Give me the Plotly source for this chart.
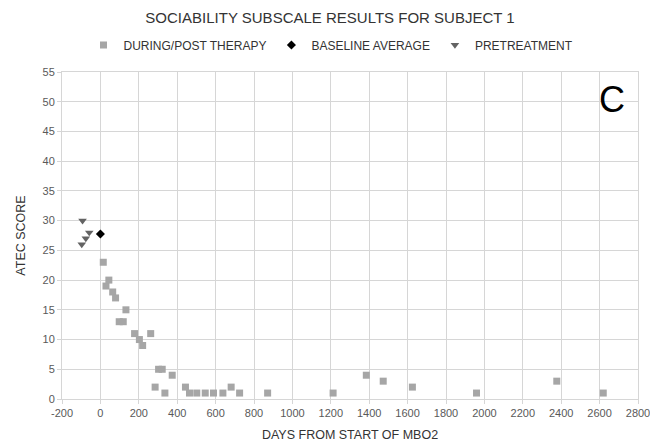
import plotly.graph_objects as go

# Sociability subscale (ATEC) scores for subject 1
therapy_days = [15, 29, 44, 64, 79, 98, 119, 133, 178, 203, 220, 262, 285, 303, 322, 336, 374,
                443, 464, 502, 546, 589, 638, 681, 725, 871, 1212, 1385, 1473, 1625, 1959, 2377, 2619]
therapy_scores = [23, 19, 20, 18, 17, 13, 13, 15, 11, 10, 9, 11, 2, 5, 5, 1, 4,
                  2, 1, 1, 1, 1, 1, 2, 1, 1, 1, 4, 3, 2, 1, 3, 1]

baseline_days = [0]
baseline_scores = [27.75]

pre_days = [-93, -58, -76, -97]
pre_scores = [30, 28, 27, 26]

x_ticks = list(range(-200, 2801, 200))
y_ticks = list(range(0, 56, 5))

FONT = "Liberation Sans, Arial, sans-serif"
GRID = "#d6d6d6"

# plot area: x from 62 to 638 px, y from 72 to 399 px
L, R, T, B = 62, 12, 72, 44
W, H = 650, 443
PW = W - L - R
PH = H - T - B

fig = go.Figure()
fig.add_trace(go.Scatter(
    x=therapy_days, y=therapy_scores, mode="markers", name="DURING/POST THERAPY",
    marker=dict(symbol="square", size=7, color="#a6a6a6"),
))
fig.add_trace(go.Scatter(
    x=baseline_days, y=baseline_scores, mode="markers", name="BASELINE AVERAGE",
    marker=dict(symbol="diamond", size=7, color="#000000"),
))
fig.add_trace(go.Scatter(
    x=pre_days, y=pre_scores, mode="markers", name="PRETREATMENT",
    marker=dict(symbol="triangle-down", size=7.5, color="#636363"),
))

fig.update_layout(
    width=W, height=H,
    margin=dict(l=L, r=R, t=T, b=B, autoexpand=False),
    paper_bgcolor="white", plot_bgcolor="white",
    font=dict(family=FONT, color="#595959", size=11),
    title=dict(text="SOCIABILITY SUBSCALE RESULTS FOR SUBJECT 1",
               x=(330 - L) / PW, xref="paper", xanchor="center",
               y=1 - 18 / H, yanchor="middle",
               font=dict(family=FONT, size=15, color="#333333")),
    legend=dict(orientation="h", x=(331 - L) / PW, xanchor="center",
                y=1 + (T - 45) / PH, yanchor="middle",
                font=dict(family=FONT, size=12, color="#333333"),
                itemwidth=30, tracegroupgap=0),
    showlegend=True,
)
fig.update_xaxes(
    range=[-200, 2800], tickvals=x_ticks, ticktext=[str(v) for v in x_ticks],
    automargin=False, ticklabeloverflow="allow",
    showgrid=True, gridcolor=GRID, gridwidth=1, zeroline=False,
    showline=True, linecolor=GRID, mirror=True,
    ticks="outside", ticklen=4, tickcolor=GRID,
    tickfont=dict(family=FONT, size=11, color="#595959"),
    title=dict(text="DAYS FROM START OF MBO2", standoff=12,
               font=dict(family=FONT, size=12.5, color="#333333")),
)
fig.update_yaxes(
    range=[0, 55], tickvals=y_ticks, ticktext=[str(v) for v in y_ticks],
    automargin=False, ticklabeloverflow="allow",
    showgrid=True, gridcolor=GRID, gridwidth=1, zeroline=False,
    showline=True, linecolor=GRID, mirror=True,
    ticks="outside", ticklen=4, tickcolor=GRID,
    tickfont=dict(family=FONT, size=11, color="#595959"),
    title=dict(text="ATEC SCORE", standoff=14,
               font=dict(family=FONT, size=12.5, color="#333333")),
)
fig.add_annotation(
    text="C", x=2664, y=50.4, xref="x", yref="y", showarrow=False,
    xanchor="center", yanchor="middle",
    font=dict(family=FONT, size=36, color="#000000"),
)

fig.write_html("out.html")
